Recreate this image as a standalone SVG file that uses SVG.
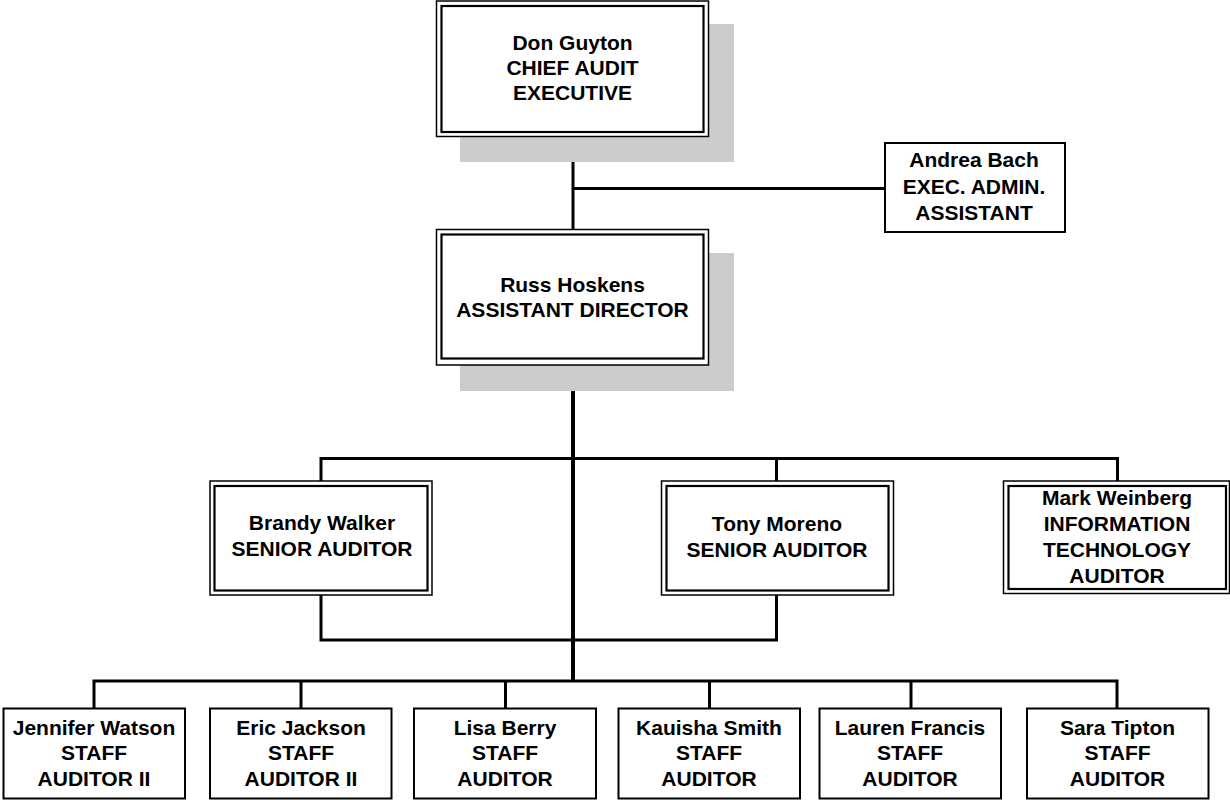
<svg xmlns="http://www.w3.org/2000/svg" width="1230" height="800" viewBox="0 0 1230 800">
<style>
.shadow{fill:#cccccc;stroke:none}
.outer{fill:#ffffff;stroke:#000;stroke-width:1.5}
.inner{fill:none;stroke:#000;stroke-width:2.2}
.box{fill:#ffffff;stroke:#000;stroke-width:2}
.ln{fill:none;stroke:#000;stroke-width:3}
.trunk{fill:none;stroke:#000;stroke-width:4}
text{font-family:"Liberation Sans",Arial,sans-serif;font-weight:bold;font-size:21px;text-anchor:middle;fill:#000}
</style>
<rect width="1230" height="800" fill="#ffffff"/>
<g id="connectors">
<path class="ln" d="M573 137V229"/>
<path class="ln" d="M573 188.5H885"/>
<path class="trunk" d="M573 365V681"/>
<path class="ln" d="M321 481.5V458.5H1117.5V481.5M776.5 458.5V481.5"/>
<path class="ln" d="M321 595V640H776.5V595"/>
<path class="ln" d="M94 708V681H1117V708M301 681V708M505.5 681V708M709.5 681V708M911 681V708"/>
</g>
<g id="don-guyton">
<rect class="shadow" x="460" y="24" width="274" height="138"/>
<rect class="outer" x="436.5" y="1" width="272" height="135.5"/>
<rect class="inner" x="441.5" y="6" width="262" height="126"/>
<text x="572.5" y="50">Don Guyton</text>
<text x="572.5" y="75">CHIEF AUDIT</text>
<text x="572.5" y="100">EXECUTIVE</text>
</g>
<g id="andrea-bach">
<rect class="box" x="885" y="143" width="180" height="89"/>
<text x="974" y="167">Andrea Bach</text>
<text x="974" y="194">EXEC. ADMIN.</text>
<text x="974" y="220">ASSISTANT</text>
</g>
<g id="russ-hoskens">
<rect class="shadow" x="460" y="253" width="274" height="138"/>
<rect class="outer" x="436.5" y="229.5" width="272" height="135.5"/>
<rect class="inner" x="441.5" y="234.5" width="262" height="124"/>
<text x="572.5" y="292">Russ Hoskens</text>
<text x="572.5" y="317">ASSISTANT DIRECTOR</text>
</g>
<g id="brandy-walker">
<rect class="outer" x="210" y="481" width="222" height="114"/>
<rect class="inner" x="214.5" y="486" width="213" height="104.5"/>
<text x="322" y="530">Brandy Walker</text>
<text x="322" y="556">SENIOR AUDITOR</text>
</g>
<g id="tony-moreno">
<rect class="outer" x="661.5" y="481" width="232" height="114"/>
<rect class="inner" x="666.5" y="486" width="222" height="104.5"/>
<text x="777" y="530.5">Tony Moreno</text>
<text x="777" y="556.5">SENIOR AUDITOR</text>
</g>
<g id="mark-weinberg">
<rect class="outer" x="1003.5" y="481" width="226" height="112.5"/>
<rect class="inner" x="1008.5" y="486" width="217.5" height="103"/>
<text x="1117" y="505">Mark Weinberg</text>
<text x="1117" y="531">INFORMATION</text>
<text x="1117" y="557">TECHNOLOGY</text>
<text x="1117" y="582.5">AUDITOR</text>
</g>
<g id="jennifer-watson">
<rect class="box" x="3.5" y="708.5" width="181.5" height="90"/>
<text x="94" y="734.5">Jennifer Watson</text>
<text x="94" y="760">STAFF</text>
<text x="94" y="785.5">AUDITOR II</text>
</g>
<g id="eric-jackson">
<rect class="box" x="210" y="708.5" width="181.5" height="90"/>
<text x="301" y="734.5">Eric Jackson</text>
<text x="301" y="760">STAFF</text>
<text x="301" y="785.5">AUDITOR II</text>
</g>
<g id="lisa-berry">
<rect class="box" x="414" y="708.5" width="182" height="90"/>
<text x="505" y="734.5">Lisa Berry</text>
<text x="505" y="760">STAFF</text>
<text x="505" y="785.5">AUDITOR</text>
</g>
<g id="kauisha-smith">
<rect class="box" x="618.5" y="708.5" width="181.5" height="90"/>
<text x="709" y="734.5">Kauisha Smith</text>
<text x="709" y="760">STAFF</text>
<text x="709" y="785.5">AUDITOR</text>
</g>
<g id="lauren-francis">
<rect class="box" x="819.5" y="708.5" width="181.5" height="90"/>
<text x="910" y="734.5">Lauren Francis</text>
<text x="910" y="760">STAFF</text>
<text x="910" y="785.5">AUDITOR</text>
</g>
<g id="sara-tipton">
<rect class="box" x="1027" y="708.5" width="181.5" height="90"/>
<text x="1117.5" y="734.5">Sara Tipton</text>
<text x="1117.5" y="760">STAFF</text>
<text x="1117.5" y="785.5">AUDITOR</text>
</g>
</svg>
